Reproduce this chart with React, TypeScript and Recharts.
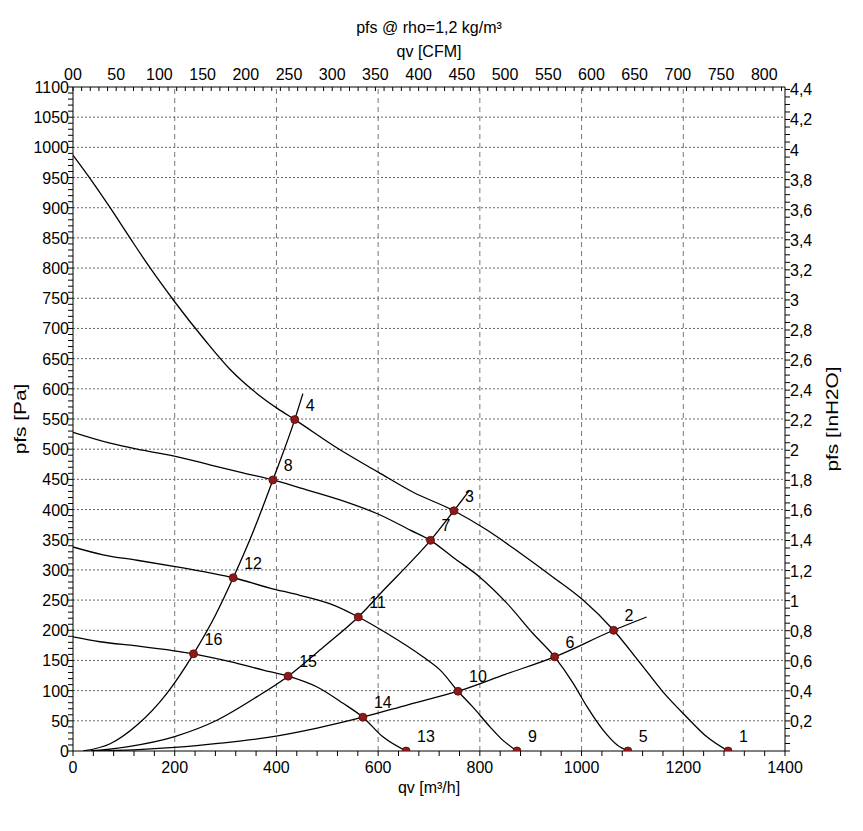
import React from "react";
import {
  ComposedChart,
  Label,
  Line,
  ReferenceLine,
  Scatter,
  XAxis,
  YAxis,
} from "recharts";

// fan curves, [qv m3/h, pfs Pa]
const fanCurve1 = [
  [0, 987], [33, 949], [73, 900], [112, 850], [151, 801], [201, 743],
  [260, 680], [309, 632], [362, 592], [401, 568], [436, 549], [525, 499],
  [600, 462], [668, 429], [749, 398], [814, 366], [879, 328], [944, 288],
  [1003, 250], [1063, 200], [1115, 146], [1160, 98], [1207, 56],
  [1247, 23], [1288, 0],
];
const fanCurve2 = [
  [0, 528], [73, 510], [126, 500], [197, 489], [269, 474], [328, 462],
  [393, 449], [446, 436], [525, 416], [604, 391], [663, 366], [703, 349],
  [747, 321], [800, 288], [853, 245], [904, 195], [947, 156], [983, 113],
  [1011, 73], [1042, 35], [1070, 10], [1091, 0],
];
const fanCurve3 = [
  [0, 338], [59, 325], [126, 316], [204, 305], [269, 295], [315, 287],
  [387, 270], [446, 258], [511, 242], [561, 222], [617, 195], [688, 156],
  [722, 134], [757, 99], [786, 73], [820, 40], [845, 18], [873, 0],
];
const fanCurve4 = [
  [0, 189], [53, 181], [126, 174], [191, 167], [237, 161], [309, 148],
  [374, 134], [423, 124], [480, 106], [531, 79], [570, 56], [610, 23],
  [655, 0],
];

// system curves
const systemCurveA = [
  [20, 0], [73, 12], [126, 43], [185, 96], [237, 161], [280, 225],
  [315, 287], [355, 365], [393, 449], [436, 549], [452, 592],
];
const systemCurveB = [
  [35, 0], [106, 7], [200, 24], [283, 51], [362, 90], [423, 124],
  [492, 172], [561, 222], [617, 272], [663, 312], [703, 349], [749, 398],
  [780, 432],
];
const systemCurveC = [
  [35, 0], [120, 2], [200, 6], [290, 13], [387, 23], [480, 38], [570, 56],
  [660, 77], [757, 99], [850, 127], [947, 156], [1063, 200], [1128, 222],
];

const operatingPoints = [
  { label: "1", q: 1288, p: 0 },
  { label: "2", q: 1063, p: 200 },
  { label: "3", q: 749, p: 398 },
  { label: "4", q: 436, p: 549 },
  { label: "5", q: 1091, p: 0 },
  { label: "6", q: 947, p: 156 },
  { label: "7", q: 703, p: 349 },
  { label: "8", q: 393, p: 449 },
  { label: "9", q: 873, p: 0 },
  { label: "10", q: 757, p: 99 },
  { label: "11", q: 561, p: 222 },
  { label: "12", q: 315, p: 287 },
  { label: "13", q: 655, p: 0 },
  { label: "14", q: 570, p: 56 },
  { label: "15", q: 423, p: 124 },
  { label: "16", q: 237, p: 161 },
];

// axis ticks
const qvLabels = [0, 200, 400, 600, 800, 1000, 1200, 1400];
const qvGrid = [200, 400, 600, 800, 1000, 1200];
const paLabels = [
  0, 50, 100, 150, 200, 250, 300, 350, 400, 450, 500, 550, 600, 650, 700,
  750, 800, 850, 900, 950, 1000, 1050, 1100,
];
const cfmLabels = [
  0, 50, 100, 150, 200, 250, 300, 350, 400, 450, 500, 550, 600, 650, 700,
  750, 800,
];
const inLabels = [
  0.2, 0.4, 0.6, 0.8, 1, 1.2, 1.4, 1.6, 1.8, 2, 2.2, 2.4, 2.6, 2.8, 3, 3.2,
  3.4, 3.6, 3.8, 4, 4.2, 4.4,
];

const PA_PER_INH2O = 249.089;
const M3H_PER_CFM = 1.699;
const QV_MAX = 1400;
const PA_MAX = 1100;

const steps = (max: number, step: number) =>
  Array.from({ length: Math.floor(max / step + 1e-6) + 1 }, (_, i) =>
    Math.round(i * step * 1000) / 1000
  );
const qvTicks = steps(QV_MAX, 40);
const paTicks = steps(PA_MAX, 10);
const cfmTicks = steps(QV_MAX / M3H_PER_CFM, 10);
const inTicks = steps(PA_MAX / PA_PER_INH2O, 0.05);

// corner anchors so the CFM / InH2O axes have something bound to them
const secondaryAnchors = [
  { cfm: 0, inh: 0 },
  { cfm: QV_MAX / M3H_PER_CFM, inh: PA_MAX / PA_PER_INH2O },
];

const toPts = (arr: number[][]) => arr.map(([q, p]) => ({ q, p }));
const has = (list: number[], v: number) => list.some((x) => Math.abs(x - v) < 1e-6);

const font = "'Liberation Sans', Arial, sans-serif";
const fs = 16;

const BottomTick = (props: any) => {
  const { x, y, payload } = props;
  const v = payload.value;
  return (
    <g>
      <line x1={x} x2={x} y1={y} y2={y + 5} stroke="#000" />
      {has(qvLabels, v) && (
        <text x={x} y={y + 22} textAnchor="middle" fontSize={fs} fontFamily={font} fill="#000">
          {v}
        </text>
      )}
    </g>
  );
};

const TopTick = (props: any) => {
  const { x, y, payload } = props;
  const v = payload.value;
  return (
    <g>
      <line x1={x} x2={x} y1={y} y2={y + 4} stroke="#000" />
      {has(cfmLabels, v) && (
        <text x={x} y={y - 7} textAnchor="middle" fontSize={fs} fontFamily={font} fill="#000">
          {v === 0 ? "00" : v}
        </text>
      )}
    </g>
  );
};

const LeftTick = (props: any) => {
  const { x, y, payload } = props;
  const v = payload.value;
  return (
    <g>
      <line x1={x - 5} x2={x} y1={y} y2={y} stroke="#000" />
      {has(paLabels, v) && (
        <text x={x - 4} y={y + 6} textAnchor="end" fontSize={fs} fontFamily={font} fill="#000">
          {v}
        </text>
      )}
    </g>
  );
};

const RightTick = (props: any) => {
  const { x, y, payload } = props;
  const v = payload.value;
  return (
    <g>
      <line x1={x} x2={x + 5} y1={y} y2={y} stroke="#000" />
      {has(inLabels, v) && (
        <text x={x + 5} y={y + 6} textAnchor="start" fontSize={fs} fontFamily={font} fill="#000">
          {String(v).replace(".", ",")}
        </text>
      )}
    </g>
  );
};

const PointMark = (props: any) => {
  const { cx, cy, payload } = props;
  return (
    <g>
      <circle cx={cx} cy={cy} r={4} fill="#8b1a1a" stroke="#5a0808" strokeWidth={0.8} />
      <text x={cx + 11} y={cy - 9} fontSize={fs} fontFamily={font} fill="#000">
        {payload.label}
      </text>
    </g>
  );
};

const txt = (x: number, y: number, s: string, rot = false) => (
  <text
    x={0}
    y={0}
    textAnchor="middle"
    dominantBaseline="central"
    fontSize={fs}
    fontFamily={font}
    fill="#000"
    transform={rot ? `translate(${x} ${y}) rotate(-90) scale(1.3 1.05)` : `translate(${x} ${y})`}
  >
    {s}
  </text>
);

const curves = [fanCurve1, fanCurve2, fanCurve3, fanCurve4, systemCurveA, systemCurveB, systemCurveC];

export default function App() {
  return (
    <div style={{ width: 847, height: 815 }}>
      <ComposedChart width={847} height={815} margin={{ top: 49, right: 20, bottom: 42, left: 20 }}>
        <XAxis
          xAxisId="qv"
          dataKey="q"
          type="number"
          orientation="bottom"
          domain={[0, QV_MAX]}
          allowDataOverflow
          ticks={qvTicks}
          interval={0}
          tick={<BottomTick />}
          tickLine={false}
          tickSize={0}
          tickMargin={0}
          height={30}
          axisLine={{ stroke: "#000" }}
        >
          <Label
            content={(p: any) => {
              const vb = p.viewBox;
              return txt(vb.x + vb.width / 2, vb.y + 36, "qv [m³/h]");
            }}
          />
        </XAxis>
        <XAxis
          xAxisId="cfm"
          dataKey="cfm"
          type="number"
          orientation="top"
          domain={[0, QV_MAX / M3H_PER_CFM]}
          allowDataOverflow
          ticks={cfmTicks}
          interval={0}
          tick={<TopTick />}
          tickLine={false}
          tickSize={0}
          tickMargin={0}
          height={30}
          axisLine={{ stroke: "#000" }}
        >
          <Label
            content={(p: any) => {
              const vb = p.viewBox;
              return (
                <g>
                  {txt(vb.x + vb.width / 2, vb.y - 6, "qv [CFM]")}
                  {txt(vb.x + vb.width / 2, vb.y - 30, "pfs @ rho=1,2 kg/m³")}
                </g>
              );
            }}
          />
        </XAxis>
        <YAxis
          yAxisId="pa"
          dataKey="p"
          type="number"
          orientation="left"
          domain={[0, PA_MAX]}
          allowDataOverflow
          ticks={paTicks}
          interval={0}
          tick={<LeftTick />}
          tickLine={false}
          tickSize={0}
          tickMargin={0}
          width={45}
          axisLine={{ stroke: "#000" }}
        >
          <Label
            content={(p: any) => {
              const vb = p.viewBox;
              return txt(vb.x - 8, vb.y + vb.height / 2, "pfs [Pa]", true);
            }}
          />
        </YAxis>
        <YAxis
          yAxisId="in"
          dataKey="inh"
          type="number"
          orientation="right"
          domain={[0, PA_MAX / PA_PER_INH2O]}
          allowDataOverflow
          ticks={inTicks}
          interval={0}
          tick={<RightTick />}
          tickLine={false}
          tickSize={0}
          tickMargin={0}
          width={50}
          axisLine={{ stroke: "#000" }}
        >
          <Label
            content={(p: any) => {
              const vb = p.viewBox;
              return txt(vb.x + 47, vb.y + vb.height / 2, "pfs [InH2O]", true);
            }}
          />
        </YAxis>

        {paLabels
          .filter((v) => v > 0 && v < PA_MAX)
          .map((v) => (
            <ReferenceLine
              key={"h" + v}
              xAxisId="qv"
              yAxisId="pa"
              y={v}
              stroke="#666"
              strokeDasharray="2 2"
            />
          ))}
        {qvGrid.map((v) => (
          <ReferenceLine
            key={"v" + v}
            xAxisId="qv"
            yAxisId="pa"
            x={v}
            stroke="#777"
            strokeDasharray="5 4"
          />
        ))}

        <Scatter
          xAxisId="cfm"
          yAxisId="in"
          data={secondaryAnchors}
          dataKey="inh"
          shape={() => <g />}
          isAnimationActive={false}
        />

        {curves.map((c, i) => (
          <Line
            key={i}
            xAxisId="qv"
            yAxisId="pa"
            data={toPts(c)}
            dataKey="p"
            type="monotone"
            stroke="#000"
            strokeWidth={1.3}
            dot={false}
            activeDot={false}
            isAnimationActive={false}
          />
        ))}
        <Scatter
          xAxisId="qv"
          yAxisId="pa"
          data={operatingPoints}
          dataKey="p"
          shape={<PointMark />}
          isAnimationActive={false}
        />
      </ComposedChart>
    </div>
  );
}
